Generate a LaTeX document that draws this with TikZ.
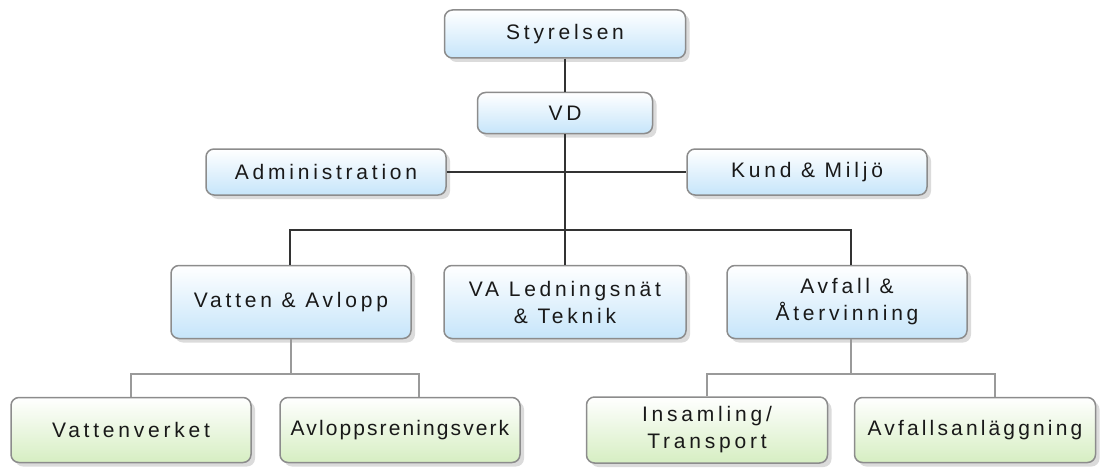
\documentclass[tikz,border=0pt]{standalone}
\usepackage{fontspec}
\setmainfont{Liberation Sans}[LetterSpace=18]
\usetikzlibrary{shadows}

\definecolor{boxline}{HTML}{8C8C8C}
\definecolor{bluebot}{HTML}{C6E5FA}
\definecolor{greenbot}{HTML}{D6EEC2}
\definecolor{topline}{HTML}{333333}
\definecolor{lowline}{HTML}{9A9A9A}

\tikzset{
  orgbox/.style={draw=boxline, line width=1.5pt, rounded corners=8pt,
    align=center, inner sep=0pt, text=black!90,
    font=\fontsize{21}{27}\selectfont,
    drop shadow={shadow xshift=4pt, shadow yshift=-4pt, fill=black!14, opacity=1}},
  bluebox/.style={orgbox, top color=white, bottom color=bluebot},
  greenbox/.style={orgbox, top color=white, bottom color=greenbot},
  tight/.style={font=\fontsize{21}{27}\selectfont\addfontfeatures{LetterSpace=#1}},
  topconn/.style={draw=topline, line width=1.5pt},
  lowconn/.style={draw=lowline, line width=2pt},
}

\begin{document}
\begin{tikzpicture}[x=1pt, y=-1pt]
\useasboundingbox (0, 0) rectangle (1110, 468);

% ledning
\node [bluebox, minimum width=241, minimum height=48] (sty) at (565, 34) {Styrelsen};
\node [bluebox, minimum width=175, minimum height=41] (vd) at (565, 113) {VD};
\node [bluebox, minimum width=240, minimum height=46] (adm) at (326, 172) {Administration};
\node [bluebox, minimum width=240, minimum height=46] (kund) at (807, 172) {Kund \& Milj\"o};

% avdelningar
\node [bluebox, minimum width=240, minimum height=73] (vatten) at (291, 302) {Vatten \& Avlopp};
\node [bluebox, minimum width=242, minimum height=73] (valed) at (565, 302) {VA Ledningsn\"at\\\& Teknik};
\node [bluebox, minimum width=240, minimum height=73] (avfall) at (847, 302) {Avfall \&\\\AA tervinning};

% enheter
\node [greenbox, minimum width=240, minimum height=65] (vverk) at (131, 430) {Vattenverket};
\node [greenbox, tight=10, minimum width=240, minimum height=65] (arv) at (400, 430) {Avloppsreningsverk};
\node [greenbox, minimum width=241, minimum height=66] (insam) at (707, 430) {Insamling/\\Transport};
\node [greenbox, tight=15, minimum width=241, minimum height=65] (avanl) at (975, 430) {Avfallsanl\"aggning};

\coordinate (bus) at (565, 230);
\coordinate (vbus) at (291, 374);
\coordinate (abus) at (851, 374);

\draw [topconn] (sty) -- (vd);
\draw [topconn] (adm) -- (kund);
\draw [topconn] (vd) -- (valed);
\draw [topconn] ([xshift=-1pt]vatten.north) |- (bus) -| ([xshift=4pt]avfall.north);

\draw [lowconn] (vatten) -- (vbus);
\draw [lowconn] (vverk.north) |- (vbus) -| ([xshift=19pt]arv.north);
\draw [lowconn] ([xshift=4pt]avfall.south) -- (abus);
\draw [lowconn] (insam.north) |- (abus) -| ([xshift=20pt]avanl.north);
\end{tikzpicture}
\end{document}
